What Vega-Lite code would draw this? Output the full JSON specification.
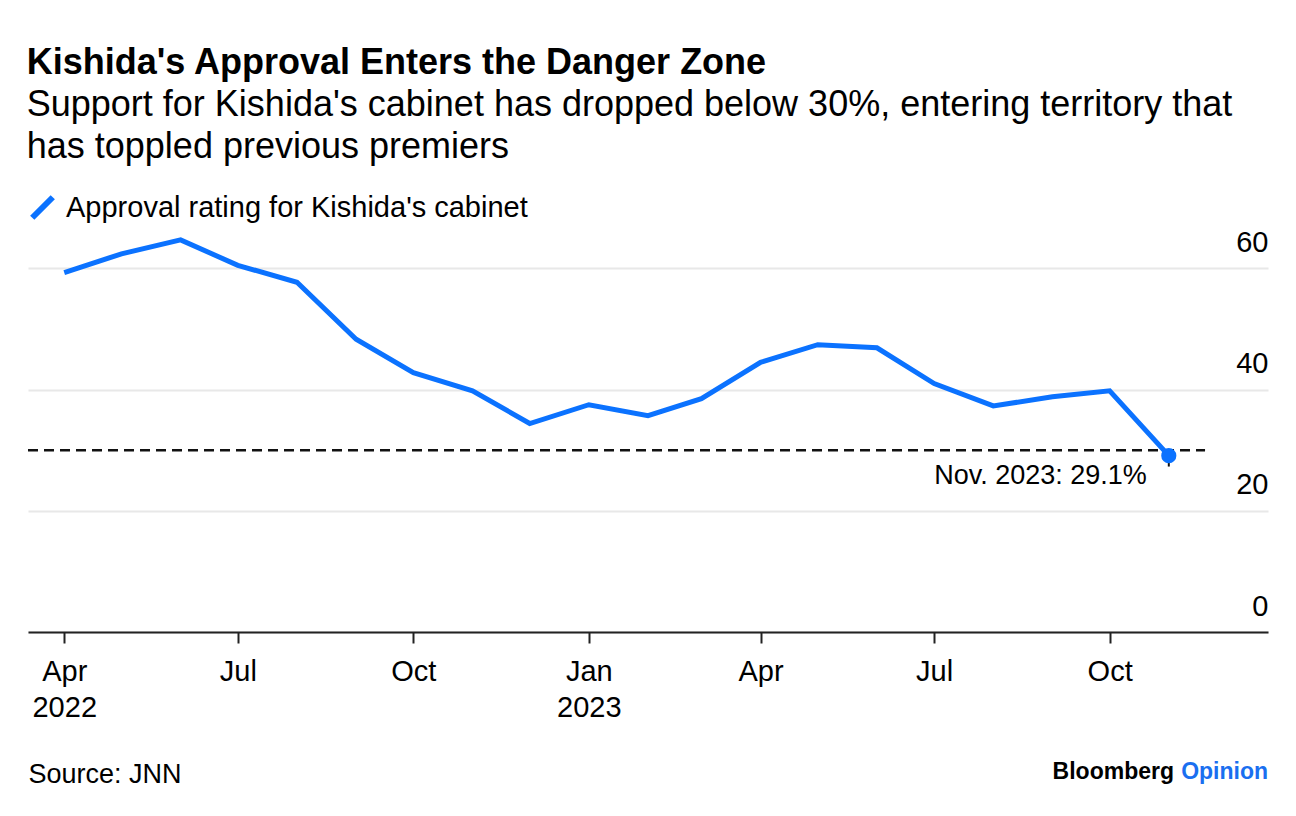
{
  "$schema": "https://vega.github.io/schema/vega-lite/v6.json",
  "width": 1240,
  "height": 400,
  "autosize": {"type": "none"},
  "padding": {"left": 28, "top": 232, "right": 28, "bottom": 184},
  "background": "white",
  "title": {
    "text": "Kishida's Approval Enters the Danger Zone",
    "subtitle": ["Support for Kishida's cabinet has dropped below 30%, entering territory that", "has toppled previous premiers"],
    "anchor": "start",
    "frame": "bounds",
    "font": "Liberation Sans",
    "fontSize": 36,
    "fontWeight": "bold",
    "color": "#000000",
    "subtitleFont": "Liberation Sans",
    "subtitleFontSize": 36,
    "subtitleColor": "#000000",
    "subtitleLineHeight": 42,
    "subtitlePadding": 6,
    "offset": 27
  },
  "config": {
    "view": {"stroke": null},
    "font": "Liberation Sans",
    "legend": {
      "orient": "top",
      "title": null,
      "symbolType": "M-1,1L1,-1",
      "symbolSize": 420,
      "symbolStrokeWidth": 6,
      "labelFontSize": 29,
      "labelColor": "#000000",
      "labelLimit": 0,
      "labelOffset": 9,
      "offset": 2,
      "padding": 0
    }
  },
  "data": {
    "values": [
      {"date": "2022-04-01", "approval": 59.3},
      {"date": "2022-05-01", "approval": 62.4},
      {"date": "2022-06-01", "approval": 64.7},
      {"date": "2022-07-01", "approval": 60.5},
      {"date": "2022-08-01", "approval": 57.7},
      {"date": "2022-09-01", "approval": 48.3},
      {"date": "2022-10-01", "approval": 42.8},
      {"date": "2022-11-01", "approval": 39.8},
      {"date": "2022-12-01", "approval": 34.4},
      {"date": "2023-01-01", "approval": 37.5},
      {"date": "2023-02-01", "approval": 35.7},
      {"date": "2023-03-01", "approval": 38.5},
      {"date": "2023-04-01", "approval": 44.5},
      {"date": "2023-05-01", "approval": 47.4},
      {"date": "2023-06-01", "approval": 46.9},
      {"date": "2023-07-01", "approval": 41.0},
      {"date": "2023-08-01", "approval": 37.3},
      {"date": "2023-09-01", "approval": 38.8},
      {"date": "2023-10-01", "approval": 39.8},
      {"date": "2023-11-01", "approval": 29.1, "label": "Nov. 2023: 29.1%"}
    ]
  },
  "layer": [
    {
      "mark": {"type": "rule", "strokeDash": [10, 6], "strokeWidth": 2.5, "color": "#111111"},
      "data": {"values": [{}]},
      "encoding": {
        "x": {
          "datum": {"year": 2022, "month": 3, "date": 13, "utc": true},
          "type": "temporal",
          "scale": {"type": "utc", "domain": [{"year": 2022, "month": 3, "date": 13, "utc": true}, {"year": 2023, "month": 12, "date": 23, "utc": true}]},
          "axis": {
            "values": [
              {"year": 2022, "month": 4, "date": 1, "utc": true},
              {"year": 2022, "month": 7, "date": 1, "utc": true},
              {"year": 2022, "month": 10, "date": 1, "utc": true},
              {"year": 2023, "month": 1, "date": 1, "utc": true},
              {"year": 2023, "month": 4, "date": 1, "utc": true},
              {"year": 2023, "month": 7, "date": 1, "utc": true},
              {"year": 2023, "month": 10, "date": 1, "utc": true}
            ],
            "labelExpr": "(utcmonth(datum.value) == 0 || (utcyear(datum.value) == 2022 && utcmonth(datum.value) == 3)) ? [utcFormat(datum.value, '%b'), utcFormat(datum.value, '%Y')] : utcFormat(datum.value, '%b')",
            "labelFontSize": 29,
            "labelColor": "#000000",
            "labelLineHeight": 36,
            "labelPadding": 14,
            "tickSize": 11,
            "tickColor": "#222222",
            "tickWidth": 2,
            "domainColor": "#222222",
            "domainWidth": 2,
            "grid": false,
            "zindex": 1,
            "title": "Source: JNN",
            "titleFontSize": 27,
            "titleFontWeight": "normal",
            "titleAnchor": "start",
            "titleAlign": "left",
            "titleX": 0,
            "titleY": 142,
            "titleBaseline": "middle",
            "titleColor": "#000000"
          }
        },
        "x2": {"datum": {"year": 2023, "month": 11, "date": 20, "utc": true}},
        "y": {
          "datum": 30,
          "type": "quantitative",
          "scale": {"domain": [0, 66], "nice": false},
          "axis": {
            "orient": "right",
            "values": [0, 20, 40, 60],
            "grid": true,
            "gridColor": "#e8e8e8",
            "gridWidth": 2,
            "domain": false,
            "ticks": false,
            "labelAlign": "right",
            "labelBaseline": "alphabetic",
            "labelOffset": -17,
            "labelPadding": 0,
            "labelFontSize": 29,
            "labelColor": "#000000",
            "title": null,
            "zindex": 0
          }
        }
      }
    },
    {
      "mark": {"type": "line", "strokeWidth": 5, "strokeJoin": "miter", "strokeCap": "butt"},
      "encoding": {
        "x": {"field": "date", "type": "temporal", "scale": {"type": "utc", "domain": [{"year": 2022, "month": 3, "date": 13, "utc": true}, {"year": 2023, "month": 12, "date": 23, "utc": true}]}},
        "y": {"field": "approval", "type": "quantitative", "scale": {"domain": [0, 66], "nice": false}},
        "color": {"datum": "Approval rating for Kishida's cabinet", "type": "nominal", "scale": {"range": ["#0b72ff"]}}
      }
    },
    {
      "mark": {"type": "rule", "strokeWidth": 2, "color": "#111111"},
      "transform": [{"filter": "isValid(datum.label)"}],
      "encoding": {
        "x": {"field": "date", "type": "temporal"},
        "y": {"field": "approval", "type": "quantitative"},
        "y2": {"datum": 27.3}
      }
    },
    {
      "mark": {"type": "point", "filled": true, "size": 230, "opacity": 1, "color": "#0b72ff"},
      "transform": [{"filter": "isValid(datum.label)"}],
      "encoding": {
        "x": {"field": "date", "type": "temporal"},
        "y": {"field": "approval", "type": "quantitative"}
      }
    },
    {
      "mark": {"type": "text", "align": "right", "baseline": "middle", "dx": -22, "dy": 20, "fontSize": 27, "color": "#000000"},
      "transform": [{"filter": "isValid(datum.label)"}],
      "encoding": {
        "x": {"field": "date", "type": "temporal"},
        "y": {"field": "approval", "type": "quantitative"},
        "text": {"field": "label"}
      }
    },
    {
      "mark": {"type": "text", "align": "right", "baseline": "middle", "fontSize": 23, "fontWeight": "bold", "color": "#1a6ff0"},
      "data": {"values": [{"brand": "Opinion"}]},
      "encoding": {
        "x": {"datum": {"year": 2023, "month": 12, "date": 23, "utc": true}, "type": "temporal"},
        "y": {"datum": -23.1, "type": "quantitative"},
        "text": {"field": "brand"}
      }
    },
    {
      "mark": {"type": "text", "align": "right", "baseline": "middle", "fontSize": 23, "fontWeight": "bold", "color": "#000000", "dx": -94},
      "data": {"values": [{"brand": "Bloomberg"}]},
      "encoding": {
        "x": {"datum": {"year": 2023, "month": 12, "date": 23, "utc": true}, "type": "temporal"},
        "y": {"datum": -23.1, "type": "quantitative"},
        "text": {"field": "brand"}
      }
    }
  ]
}
